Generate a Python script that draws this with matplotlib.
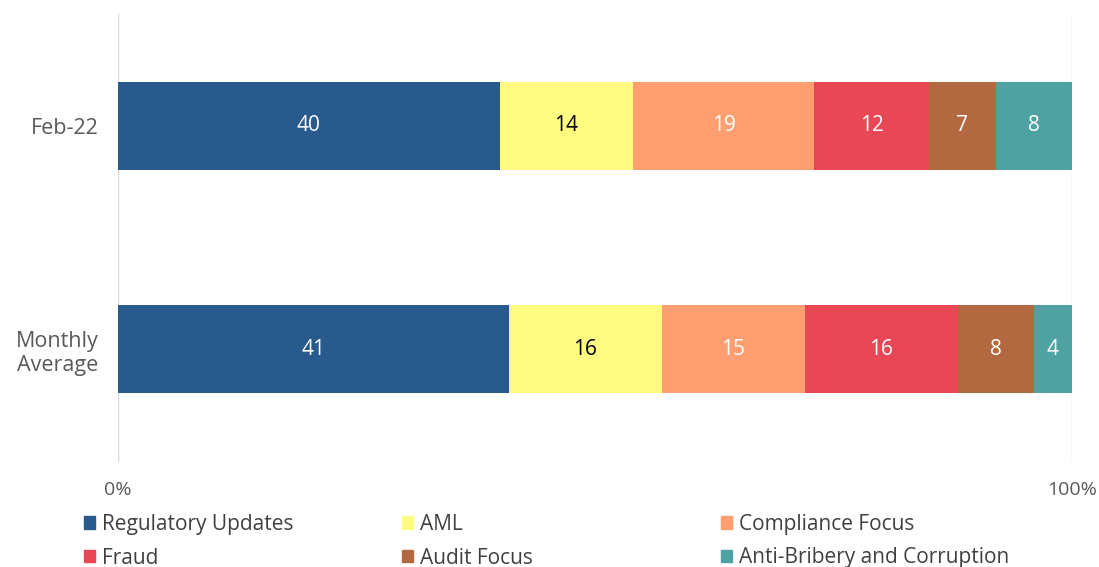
import numpy as np
import matplotlib.pyplot as plt
from matplotlib.patches import Patch

plt.rcParams['font.family'] = ['Open Sans', 'DejaVu Sans']

rows = ['Feb-22', 'Monthly\nAverage']
topics = ['Regulatory Updates', 'AML', 'Compliance Focus', 'Fraud', 'Audit Focus', 'Anti-Bribery and Corruption']
values = {
    'Regulatory Updates': [40, 41],
    'AML': [14, 16],
    'Compliance Focus': [19, 15],
    'Fraud': [12, 16],
    'Audit Focus': [7, 8],
    'Anti-Bribery and Corruption': [8, 4],
}
colors = ['#285A8E', '#FFFA80', '#FF9E70', '#E84855', '#B3693F', '#4EA3A2']
text_colors = ['white', 'black', 'white', 'white', 'white', 'white']

fig = plt.figure(figsize=(10.99, 5.67), dpi=100)
ax = fig.add_axes([118/1099, 1 - 462/567, (1072-118)/1099, (462-14)/567])

y = np.arange(len(rows))
left = np.zeros(len(rows))
for t, c, tc in zip(topics, colors, text_colors):
    v = np.array(values[t], dtype=float)
    ax.barh(y, v, left=left, height=0.395, color=c, label=t, zorder=2)
    for yi, (l, w) in enumerate(zip(left, v)):
        ax.text(l + w/2, yi, f'{int(w)}', ha='center', va='center', color=tc, fontsize=15)
    left += v

ax.set_xlim(0, 100)
ax.set_ylim(1.505, -0.5)
ax.set_yticks(y)
ax.set_yticklabels(rows, fontsize=15.5, color='#595959', ha='right', multialignment='right')
ax.set_xticks([0, 100])
ax.set_xticklabels(['0%', '100%'], fontsize=14, color='#595959')
ax.tick_params(axis='y', length=0, pad=14)
ax.tick_params(axis='x', length=0, pad=14)
ax.grid(axis='x', color='#D9D9D9', linewidth=1, zorder=0)
for s in ax.spines.values():
    s.set_visible(False)

# legend laid out row by row, three columns
col_x = [84, 402, 721]
for i in range(3):
    hs = [Patch(color=colors[i]), Patch(color=colors[i + 3])]
    fig.legend(hs, [topics[i], topics[i + 3]], loc='upper left',
               bbox_to_anchor=(col_x[i]/1099, 1 - 514/567), frameon=False,
               fontsize=15, handlelength=0.55, handleheight=0.55, handletextpad=0.3,
               labelspacing=0.6, labelcolor='#404040', borderpad=0, borderaxespad=0)

fig.savefig('out.png', dpi=100)
